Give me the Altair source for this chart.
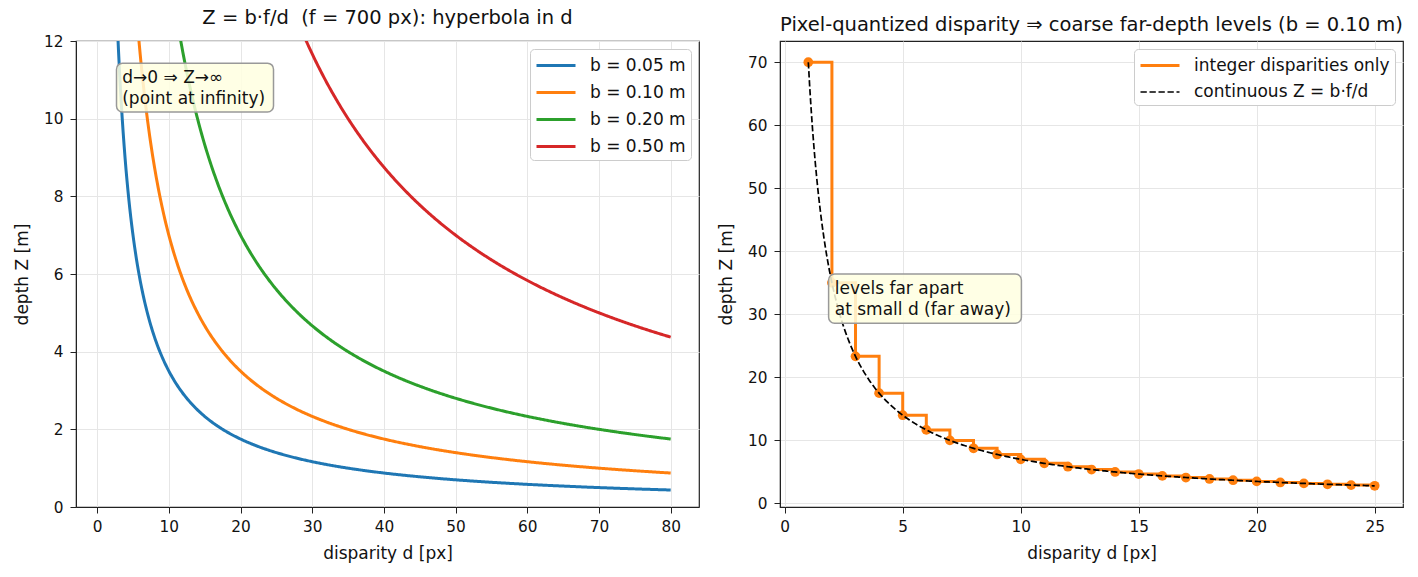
import altair as alt
import numpy as np
import pandas as pd

# ---- data ----
FOCAL_PX = 700
BASELINES_M = [0.05, 0.10, 0.20, 0.50]
BASELINE_LABELS = ["b = 0.05 m", "b = 0.10 m", "b = 0.20 m", "b = 0.50 m"]
BASELINE_COLORS = ["#1f77b4", "#ff7f0e", "#2ca02c", "#d62728"]
D_RANGE_LEFT = [1, 80]           # disparity range of the hyperbolas [px]
B_RIGHT = 0.10                   # baseline used in the right panel [m]
INT_DISPARITIES = [1, 2, 3, 4, 5, 6, 7, 8, 9, 10, 11, 12, 13,
                   14, 15, 16, 17, 18, 19, 20, 21, 22, 23, 24, 25]
SERIES_RIGHT = ["integer disparities only", "continuous Z = b·f/d"]

NOTE_LEFT = ["d→0 ⇒ Z→∞", "(point at infinity)"]
NOTE_RIGHT = ["levels far apart", "at small d (far away)"]

FONT = "DejaVu Sans"

# hyperbolas Z = b f / d (the relation stated in the panel title)
d_cont = np.linspace(D_RANGE_LEFT[0], D_RANGE_LEFT[1], 600)
rows = []
for b, lab in zip(BASELINES_M, BASELINE_LABELS):
    for d in d_cont:
        rows.append({"d": d, "Z": b * FOCAL_PX / d, "b": lab})
left_df = pd.DataFrame(rows)

step_df = pd.DataFrame({"d": INT_DISPARITIES,
                        "Z": [B_RIGHT * FOCAL_PX / d for d in INT_DISPARITIES],
                        "s": SERIES_RIGHT[0]})
d_fine = np.linspace(INT_DISPARITIES[0], INT_DISPARITIES[-1], 400)
cont_df = pd.DataFrame({"d": d_fine, "Z": B_RIGHT * FOCAL_PX / d_fine,
                        "s": SERIES_RIGHT[1]})

W, H = 623, 466
GRID = "#e6e6e6"
TXT = "#111111"
LINE_SYMBOL = "M-1,0H2.9"

def axis(title, values, label_pad=7, title_pad=10):
    return alt.Axis(title=title, values=values, grid=True, gridColor=GRID,
                    gridWidth=1, domainColor="#222222", tickColor="#222222",
                    tickSize=6, labelFontSize=15.3, titleFontSize=17,
                    labelFont=FONT, titleFont=FONT, titleFontWeight="normal",
                    labelColor=TXT, titleColor=TXT, labelPadding=label_pad,
                    titlePadding=title_pad, labelFlush=False)

def legend(**kw):
    return alt.Legend(title=None, orient="top-right", offset=8,
                      symbolType=LINE_SYMBOL, symbolSize=400,
                      labelFontSize=17, labelFont=FONT, labelColor=TXT,
                      labelLimit=500,
                      fillColor="white", strokeColor="#cccccc",
                      cornerRadius=4, padding=5, rowPadding=7,
                      labelOffset=32, **kw)

# ---- left panel ----
xl = alt.X("d:Q", scale=alt.Scale(domain=[-2.95, 83.95], nice=False, zero=False),
           axis=axis("disparity d [px]", list(range(0, 81, 10)), 6, 11))
yl = alt.Y("Z:Q", scale=alt.Scale(domain=[0, 12], nice=False),
           axis=axis("depth Z [m]", list(range(0, 13, 2)), 7, 12))

curves = alt.Chart(left_df).mark_line(strokeWidth=3, clip=True).encode(
    x=xl, y=yl,
    color=alt.Color("b:N", scale=alt.Scale(domain=BASELINE_LABELS, range=BASELINE_COLORS),
                    legend=legend(symbolStrokeWidth=3)),
    detail="b:N",
)

box_left = alt.Chart(pd.DataFrame({"x": [2.7], "x2": [24.6], "y": [10.17], "y2": [11.43]})).mark_rect(
    fill="#ffffe0", fillOpacity=0.85, stroke="#999999", strokeWidth=1.5, cornerRadius=6
).encode(x="x:Q", x2="x2:Q", y="y:Q", y2="y2:Q")

text_left = alt.Chart(pd.DataFrame({"x": [3.5], "y": [10.93], "t": ["\n".join(NOTE_LEFT)]})).mark_text(
    align="left", baseline="alphabetic", fontSize=17, font=FONT, color=TXT,
    lineBreak="\n", lineHeight=21.5
).encode(x="x:Q", y="y:Q", text="t:N")

left = alt.layer(curves, box_left, text_left).properties(
    width=W, height=H,
    title=alt.TitleParams("Z = b·f/d\u00a0 (f = 700 px): hyperbola in d", fontSize=19.5,
                          font=FONT, fontWeight="normal", color=TXT, offset=6),
)

# ---- right panel ----
xr = alt.X("d:Q", scale=alt.Scale(domain=[-0.2, 26.2], nice=False, zero=False),
           axis=axis("disparity d [px]", list(range(0, 26, 5)), 6, 11))
yr = alt.Y("Z:Q", scale=alt.Scale(domain=[-0.56, 73.36], nice=False, zero=False),
           axis=axis("depth Z [m]", list(range(0, 71, 10)), 7, 12))

ser_color = alt.Color("s:N", scale=alt.Scale(domain=SERIES_RIGHT, range=["#ff7f0e", "black"]),
                      legend=legend())
ser_dash = alt.StrokeDash("s:N", scale=alt.Scale(domain=SERIES_RIGHT, range=[[1, 0], [6.3, 2.7]]))
ser_width = alt.StrokeWidth("s:N", scale=alt.Scale(domain=SERIES_RIGHT, range=[3, 1.7]))

step = alt.Chart(step_df).mark_line(interpolate="step-after").encode(
    x=xr, y=yr, color=ser_color, strokeDash=ser_dash, strokeWidth=ser_width)
pts = alt.Chart(step_df).mark_point(filled=True, size=95, opacity=1, color="#ff7f0e").encode(
    x=xr, y=yr)
cont = alt.Chart(cont_df).mark_line().encode(
    x=xr, y=yr, color=ser_color, strokeDash=ser_dash, strokeWidth=ser_width)

box_right = alt.Chart(pd.DataFrame({"x": [1.86], "x2": [10.03], "y": [28.6], "y2": [36.4]})).mark_rect(
    fill="#ffffe0", fillOpacity=0.85, stroke="#999999", strokeWidth=1.5, cornerRadius=6
).encode(x="x:Q", x2="x2:Q", y="y:Q", y2="y2:Q")

text_right = alt.Chart(pd.DataFrame({"x": [2.12], "y": [33.2], "t": ["\n".join(NOTE_RIGHT)]})).mark_text(
    align="left", baseline="alphabetic", fontSize=17, font=FONT, color=TXT,
    lineBreak="\n", lineHeight=20.5
).encode(x="x:Q", y="y:Q", text="t:N")

right = alt.layer(step, pts, cont, box_right, text_right).properties(
    width=W, height=H,
    title=alt.TitleParams("Pixel-quantized disparity ⇒ coarse far-depth levels (b = 0.10 m)",
                          fontSize=19.5, font=FONT, fontWeight="normal", color=TXT, offset=6),
)

chart = alt.hconcat(left, right, spacing=16).resolve_scale(
    color="independent", strokeDash="independent", strokeWidth="independent"
).properties(
    padding={"left": 12, "top": 6, "right": 5, "bottom": 5},
    background="white",
).configure_view(stroke="#222222", strokeWidth=1.2)

chart.save("out.html", embed_options={"renderer": "svg", "actions": False})
